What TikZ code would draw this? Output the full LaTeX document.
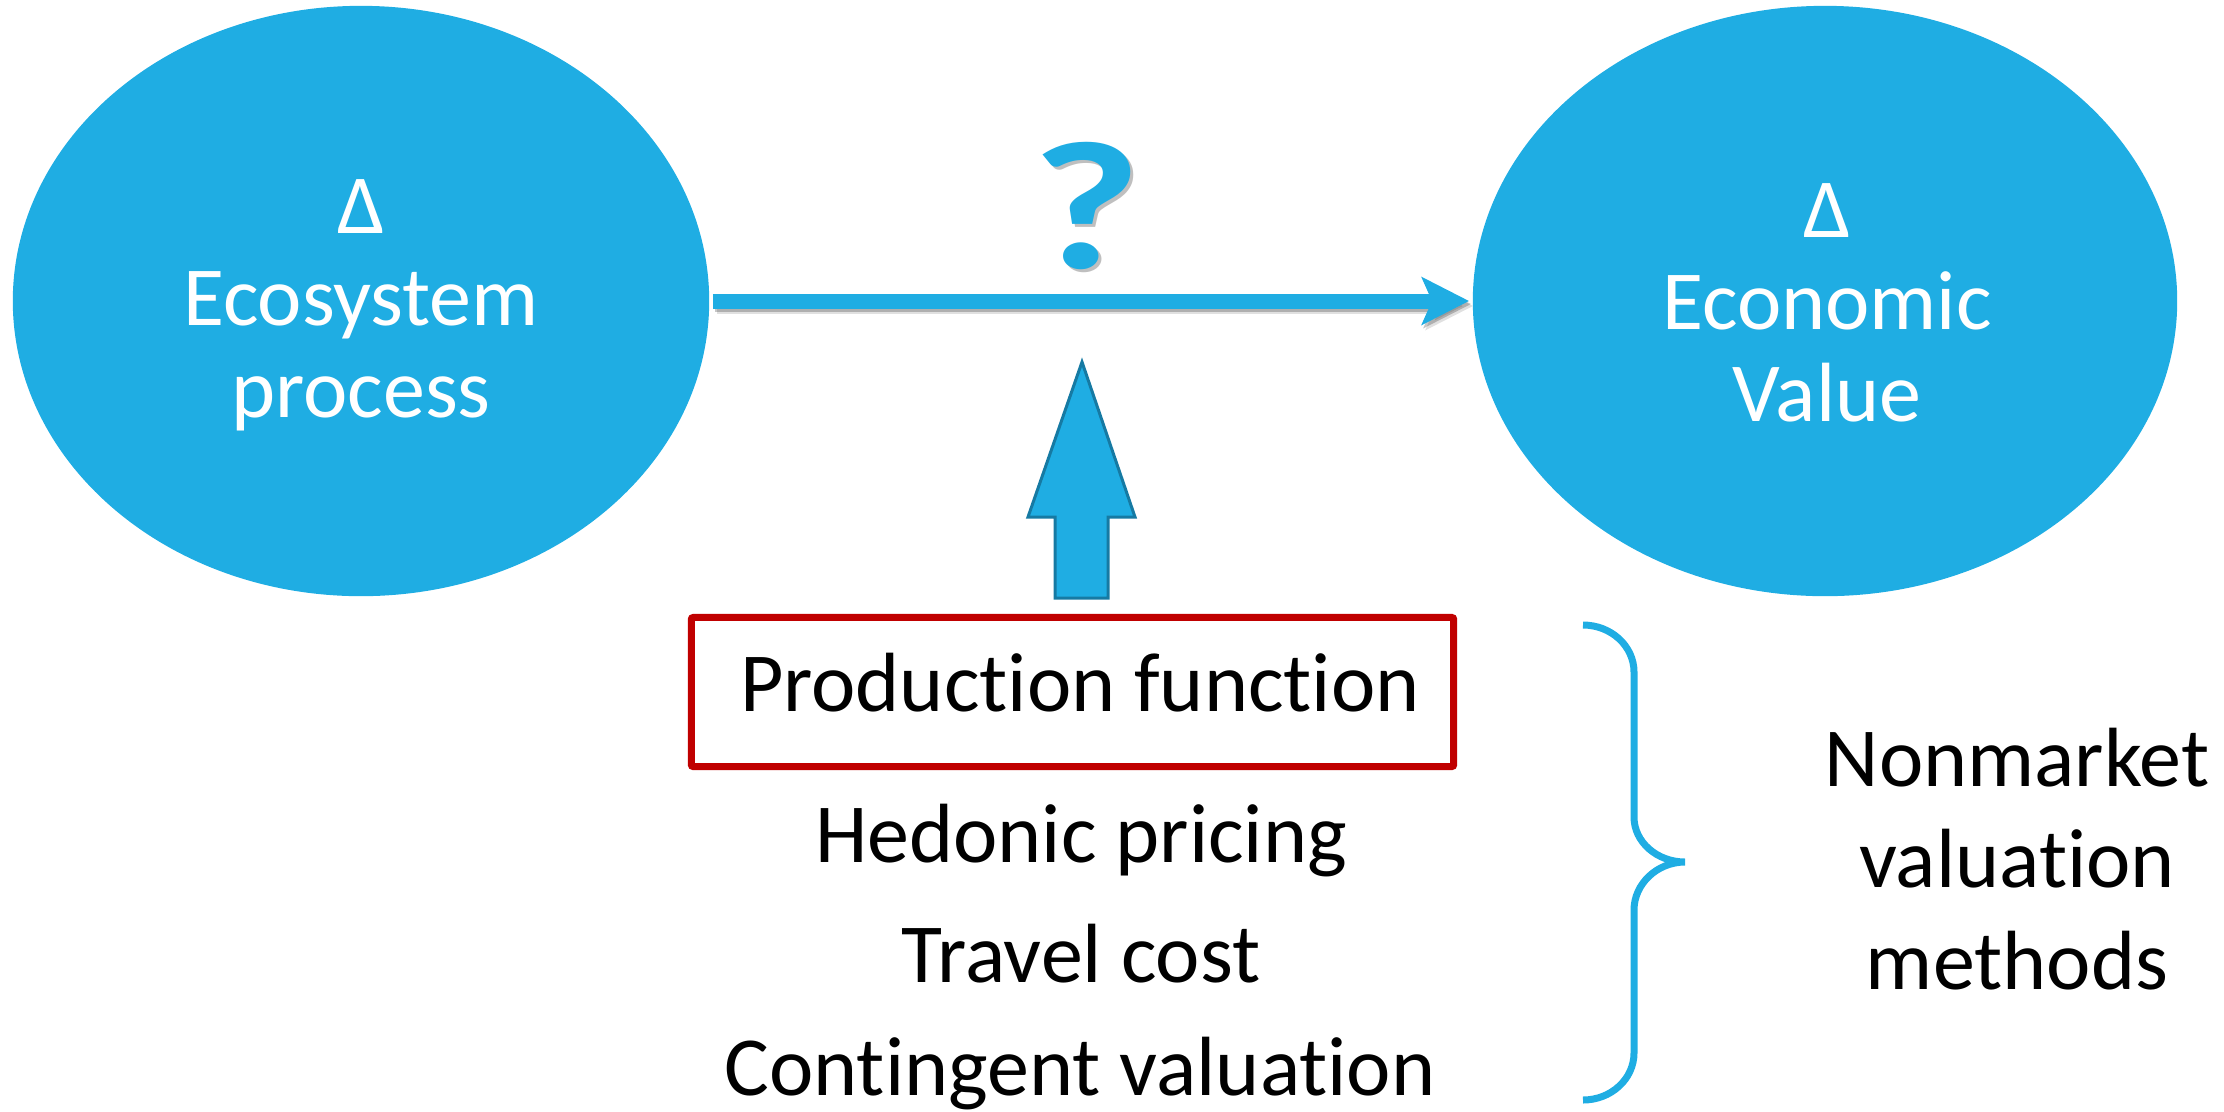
\documentclass[tikz,border=0pt]{standalone}
\usepackage{fontspec}
\setmainfont{Carlito}[Ligatures={NoCommon}]
\usetikzlibrary{shapes.geometric,arrows.meta}

\definecolor{skyblue}{RGB}{31,173,227}
\definecolor{arrowedge}{RGB}{22,122,163}
\definecolor{boxred}{RGB}{192,0,0}

\begin{document}
\begin{tikzpicture}[x=0.01cm,y=-0.01cm,
  bubble/.style={ellipse, fill=skyblue, draw=none, inner sep=0pt, minimum height=5.90cm},
  bubbletext/.style={text=white, align=center, inner sep=0pt,
    font=\fontsize{23.9}{26.2}\selectfont},
  bodytext/.style={text=black, inner sep=0pt, font=\fontsize{23.9}{28.9}\selectfont},
  flowarrow/.style={line width=0.15cm, skyblue,
    -{Stealth[length=0.47cm, width=0.47cm, inset=0.10cm]}},
  dropcopy/.style={black, opacity=0.22},
  qmark/.style={inner sep=0pt, font=\fontsize{52}{54}\bfseries\selectfont},
  blockarrow/.style={fill=skyblue, draw=arrowedge, line width=0.03cm, line join=miter},
  pfbox/.style={rectangle, draw=boxred, line width=0.07cm, rounded corners=0.02cm,
    minimum width=7.62cm, minimum height=1.49cm, inner sep=0pt},
  bracestroke/.style={draw=skyblue, line width=0.07cm}
]
\useasboundingbox (0,0) rectangle (2224,1111);

% the two ellipses
\node[bubble, minimum width=6.96cm] (eco) at (361,301) {};
\node[bubble, minimum width=7.04cm] (econ) at (1825,301) {};
\node[bubbletext] (ecotxt) at (361,305) {Δ\\Ecosystem\\process};
\node[bubbletext] (econtxt) at (1827,303) {Δ\\Economic\\Value};

% linking arrow with a soft shadow
\draw[flowarrow, dropcopy, transform canvas={xshift=0.02cm, yshift=-0.03cm}, shorten <=0.03cm, shorten >=0.03cm] (eco.east) -- (econ.west);
\draw[flowarrow, dropcopy, opacity=0.12, transform canvas={xshift=0.04cm, yshift=-0.05cm}, shorten <=0.03cm, shorten >=0.03cm] (eco.east) -- (econ.west);
\draw[flowarrow, shorten <=0.03cm, shorten >=0.03cm] (eco.east) -- (econ.west);

% question mark above the arrow
\node[qmark, text=black, opacity=0.25] (qmshadow) at (1090,209) {\scalebox{1.3}[1]{?}};
\node[qmark, text=skyblue] (qm) at (1087,206) {\scalebox{1.3}[1]{?}};

% block arrow pointing up from the method list
\draw[blockarrow] (1055,598) -- (1055,517) -- (1028,517) -- (1082,362) -- (1135,517)
  -- (1108,517) -- (1108,598) -- cycle;

% highlighted method and the other methods
\node[pfbox] (pf) at (1072.5,692) {};
\node[bodytext, anchor=base] (pftxt) at (1080,711) {Production function};
\node[bodytext, anchor=base] (hp) at (1081,862) {Hedonic pricing};
\node[bodytext, anchor=base] (tc) at (1081,982) {Travel cost};
\node[bodytext, anchor=base] (cv) at (1080,1095) {Contingent valuation};

% curly brace grouping the methods
\draw[bracestroke] (1583,625) .. controls (1611,625) and (1634,646) .. (1634,672)
  -- (1634,817) .. controls (1634,842) and (1657,862) .. (1685,862)
  .. controls (1657,862) and (1634,884) .. (1634,910)
  -- (1634,1053) .. controls (1634,1079) and (1611,1100) .. (1583,1100);

\node[bodytext, align=center] (nmv) at (2017,859) {Nonmarket\\valuation\\methods};
\end{tikzpicture}
\end{document}
